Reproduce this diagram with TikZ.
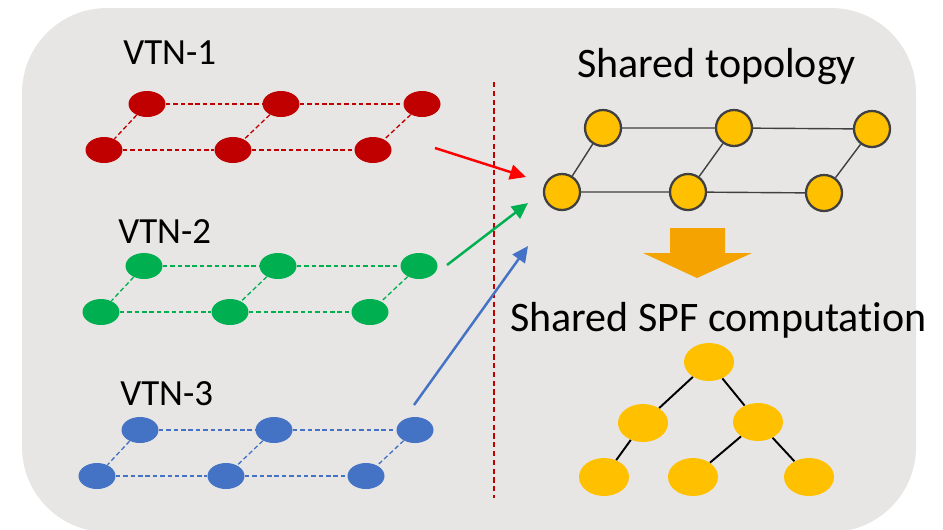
\documentclass[tikz,border=0pt]{standalone}
\usepackage{fontspec}
\setmainfont[Ligatures=NoCommon]{Carlito}
\usetikzlibrary{%
  arrows.meta,%
  shapes.geometric,% wg. ellipse
  positioning%
}

\definecolor{bggray}{HTML}{E7E6E5}
\definecolor{vtnred}{HTML}{C00000}
\definecolor{vtngreen}{HTML}{00B050}
\definecolor{vtnblue}{HTML}{4472C4}
\definecolor{arrowred}{HTML}{FF0000}
\definecolor{nodeyellow}{HTML}{FFC000}
\definecolor{edgegray}{HTML}{404040}
\definecolor{bigorange}{HTML}{F5A300}

\begin{document}
\begin{tikzpicture}[
  x=0.02cm, y=-0.02cm,
  vnode/.style={ellipse, inner sep=0pt, minimum width=0.74cm, minimum height=0.52cm},
  vlink/.style={line width=0.75pt, dash pattern=on 2.6pt off 1.6pt},
  tnode/.style={circle, inner sep=0pt, minimum size=0.72cm, draw=edgegray, fill=nodeyellow, line width=1.3pt},
  tlink/.style={draw=edgegray, line width=0.8pt},
  pnode/.style={ellipse, inner sep=0pt, minimum width=1.0cm, minimum height=0.76cm, fill=nodeyellow},
  plink/.style={draw=black, line width=1.1pt},
  flow/.style={line width=1.4pt, -{Triangle[length=0.32cm, width=0.3cm]}},
  vtnlabel/.style={anchor=base west, inner sep=0pt, font=\fontsize{21}{25}\selectfont},
  headlabel/.style={anchor=base west, inner sep=0pt, font=\fontsize{23.9}{28}\selectfont}
]

\useasboundingbox (0,0) rectangle (943,529);
\clip (0,0) rectangle (943,529);
\fill[bggray, rounded corners=1.7cm] (22,8) rectangle (916,532);

% the three VTNs
\node[vtnlabel] (lab1) at (123,64) {VTN-1};
\node[vtnlabel] (lab2) at (118,243) {VTN-2};
\node[vtnlabel] (lab3) at (120,405) {VTN-3};

\foreach \n/\col/\xs/\ys in {1/vtnred/0/104, 2/vtngreen/-3/266, 3/vtnblue/-7/430} {
  \node[vnode, fill=\col] (v\n t1) at (147+\xs,\ys) {};
  \node[vnode, fill=\col] (v\n t2) at (281+\xs,\ys) {};
  \node[vnode, fill=\col] (v\n t3) at (422+\xs,\ys) {};
  \node[vnode, fill=\col] (v\n b1) at (104+\xs,\ys+46) {};
  \node[vnode, fill=\col] (v\n b2) at (233+\xs,\ys+46) {};
  \node[vnode, fill=\col] (v\n b3) at (373+\xs,\ys+46) {};
  \draw[vlink, draw=\col] (v\n t1) -- (v\n t2) -- (v\n t3);
  \draw[vlink, draw=\col] (v\n b1) -- (v\n b2) -- (v\n b3);
  \foreach \k in {1,2,3} {
    \draw[vlink, draw=\col] (v\n t\k) -- (v\n b\k);
  }
}

% divider
\draw[vtnred, line width=0.7pt, dash pattern=on 3pt off 2pt] (494,82) -- (494,498);

% shared topology
\node[headlabel] (topo) at (577,77) {Shared topology};
\node[tnode] (s1) at (603,128) {};
\node[tnode] (s2) at (734,128) {};
\node[tnode] (s3) at (872,129) {};
\node[tnode] (s4) at (562,192) {};
\node[tnode] (s5) at (688,192) {};
\node[tnode] (s6) at (824,193) {};
\draw[tlink] (s1) -- (s2) -- (s3);
\draw[tlink] (s4) -- (s5) -- (s6);
\draw[tlink] (s1) -- (s4);
\draw[tlink] (s2) -- (s5);
\draw[tlink] (s3) -- (s6);

% merging arrows
\coordinate (ra) at (435,148);
\coordinate (rt) at (526,177);
\coordinate (ga) at (447,265);
\coordinate (gt) at (528,203);
\coordinate (ba) at (414,405);
\coordinate (bt) at (528,246);
\draw[flow, arrowred] (ra) -- (rt);
\draw[flow, vtngreen] (ga) -- (gt);
\draw[flow, vtnblue] (ba) -- (bt);

% big arrow
\fill[bigorange] (670,228) -- (725,228) -- (725,253) -- (752,253) -- (697,278)
  -- (643,253) -- (670,253) -- cycle;

% shared SPF tree
\node[headlabel] (spf) at (510,331) {Shared SPF computation};
\node[pnode] (p0) at (709,362) {};
\node[pnode] (p1) at (643,423) {};
\node[pnode] (p2) at (758,422) {};
\node[pnode] (p3) at (604,477) {};
\node[pnode] (p4) at (693,477) {};
\node[pnode] (p5) at (809,477) {};
\draw[plink] (p0) -- (p1);
\draw[plink] (p0) -- (p2);
\draw[plink] (p1) -- (p3);
\draw[plink] (p2) -- (p4);
\draw[plink] (p2) -- (p5);

\end{tikzpicture}
\end{document}
